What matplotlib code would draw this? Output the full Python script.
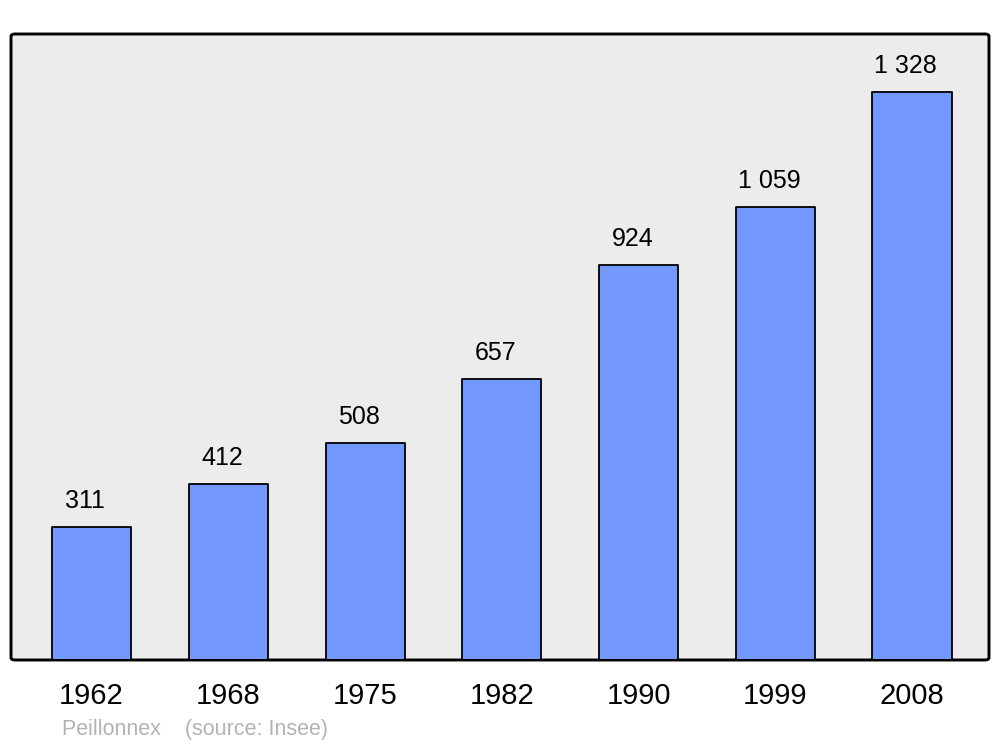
import matplotlib
matplotlib.use("Agg")
import matplotlib.pyplot as plt
from matplotlib.patches import FancyBboxPatch

plt.rcParams['font.family'] = ['Liberation Sans', 'DejaVu Sans']

years = ['1962', '1968', '1975', '1982', '1990', '1999', '2008']
population = [311, 412, 508, 657, 924, 1059, 1328]
labels = ['311', '412', '508', '657', '924', '1 059', '1 328']
town = 'Peillonnex'
source = '(source: Insee)'


def main():
    fig = plt.figure(figsize=(10, 7.47), dpi=100)
    # axes box matches the rounded frame in the reference
    ax = fig.add_axes([0.011, 1 - 660 / 747, 0.978, 626 / 747])
    ax.set_facecolor('none')

    x = list(range(len(years)))
    ax.set_xlim(-0.589, 6.563)
    ax.set_ylim(0, 1328 * 626 / 568)

    frame = FancyBboxPatch((0, 0), 1, 1, boxstyle='round,pad=0,rounding_size=0.004',
                           transform=ax.transAxes, facecolor='#ececec',
                           edgecolor='black', linewidth=2.1, zorder=0, clip_on=False)
    ax.add_patch(frame)

    bars = ax.bar(x, population, width=0.578, color='#7399ff',
                  edgecolor='black', linewidth=1.3, zorder=2)
    for b in bars:
        b.set_joinstyle('round')

    for xi, val, lab in zip(x, population, labels):
        ax.annotate(lab, (xi, val), xytext=(-4.5, 13.5), textcoords='offset points',
                    ha='center', va='baseline', fontsize=18, color='black')

    # redraw bottom line of frame over bars
    ax.axhline(0, color='black', linewidth=2.1, zorder=3)

    ax.set_xticks(x, years)
    ax.tick_params(axis='x', length=0, pad=16, labelsize=21)
    ax.set_yticks([])
    for s in ax.spines.values():
        s.set_visible(False)

    fig.text(0.062, 1 - 730 / 747, town + '    ' + source, fontsize=15.5,
             color='#b3b3b3', ha='left', va='center')

    plt.savefig('out.png', dpi=100)


if __name__ == '__main__':
    main()
